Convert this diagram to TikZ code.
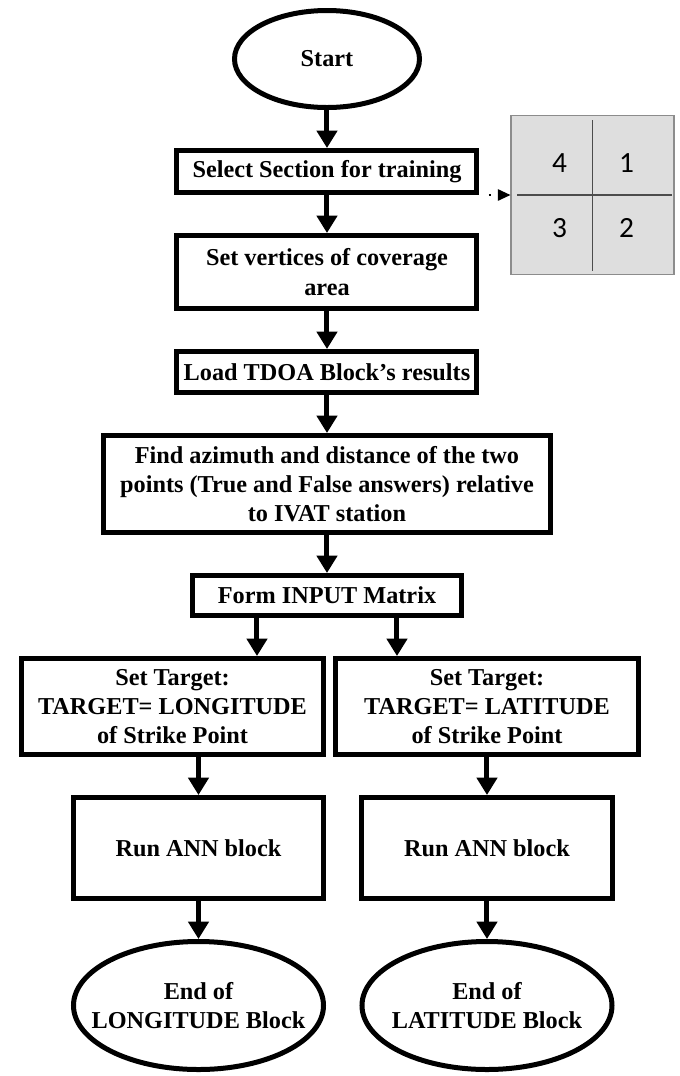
\documentclass[tikz,border=0pt]{standalone}
\usepackage{fontspec}
\setmainfont{Liberation Serif}
\newfontfamily\numfont{Carlito}
\usetikzlibrary{positioning,shapes.geometric,arrows.meta}
\tikzset{txt/.style={font=\fontsize{18.2}{22}\selectfont\bfseries},
main node/.style={rectangle,draw,line width=3.75pt,align=center,inner sep=2pt,txt},
end node/.style={ellipse,draw,line width=3.75pt,inner sep=0pt,txt},
flow/.style={draw,line width=3.75pt,-{Triangle[length=13pt,width=15pt]}},
dot flow/.style={draw,line width=1.3pt,dash pattern=on 0pt off 7pt on 1.5pt off 30pt,-{Triangle[length=9.5pt,width=8.5pt]}},
quarter/.style={font=\numfont\fontsize{22}{22}\selectfont,inner sep=0pt},
}

\begin{document}
\begin{tikzpicture}[node distance = 28.5pt]
	\useasboundingbox (-245.25pt,44.25pt) rectangle (264.75pt,-762.75pt);
	\node[end node,minimum width=138.75pt,minimum height=72.75pt] (1) at (0,0) {Start};
	\node[main node,minimum width=225pt,minimum height=31.5pt] (2)[below = of 1]{Select Section for training};
	\node[main node,minimum width=225pt,minimum height=54.75pt] (3)[below = of 2]{Set vertices of coverage\\area};
	\node[main node,minimum width=225pt,minimum height=30.75pt] (4)[below = of 3]{Load TDOA Block’s results};
	\node[main node,minimum width=335.25pt,minimum height=72.75pt] (5)[below = of 4]{Find azimuth and distance of the two\\points (True and False answers) relative\\to IVAT station};
	\node[main node,minimum width=201.75pt,minimum height=30pt] (6)[below = of 5]{Form INPUT Matrix};
	\node[main node,minimum width=226.5pt,minimum height=72pt] (7)[below = of 6,xshift=-115.875pt]{Set Target:\\TARGET= LONGITUDE\\of Strike Point};
	\node[main node,minimum width=226.5pt,minimum height=72pt] (8)[below = of 6,xshift=120pt]{Set Target:\\TARGET= LATITUDE\\of Strike Point};
	\node[main node,minimum width=187.5pt,minimum height=75.75pt] (9)[below = of 7,xshift=19.5pt]{Run ANN block};
	\node[main node,minimum width=187.5pt,minimum height=75.75pt] (10)[below = of 8]{Run ANN block};
	\node[end node,minimum width=187.5pt,minimum height=96pt,label={[txt,align=center]center:{End of\\LONGITUDE Block}}] (11)[below = of 9]{};
	\node[end node,minimum width=187.5pt,minimum height=96pt,label={[txt,align=center]center:{End of\\LATITUDE Block}}] (12)[below = of 10]{};
	
	\node[draw=black!45,fill=black!13,line width=1pt,minimum width=122pt,minimum height=119pt,anchor=west] (13) at ([xshift=23.25pt]2.south east) {};
	\draw[black!70,line width=0.9pt] ([xshift=5pt]13.west) -- ([xshift=-2pt]13.east);
	\draw[black!70,line width=0.9pt] ([yshift=-4pt]13.north) -- ([yshift=3pt]13.south);
	\node[quarter] (q4) at ([shift={(-24.75pt,24pt)}]13.center) {4};
	\node[quarter] (q1) at ([shift={(25.5pt,24pt)}]13.center) {1};
	\node[quarter] (q3) at ([shift={(-24.75pt,-24.75pt)}]13.center) {3};
	\node[quarter] (q2) at ([shift={(25.5pt,-24.75pt)}]13.center) {2};
	
	\path[every edge/.style={flow}]
	(1) edge (2)
	(2) edge (3)
	(3) edge (4)
	(4) edge (5)
	(5) edge (6)
	([xshift=-52.5pt]6.south) edge ([xshift=-52.5pt]6.south |- 7.north)
	([xshift=52.5pt]6.south) edge ([xshift=52.5pt]6.south |- 8.north)
	(9.north |- 7.south) edge (9.north)
	(10.north |- 8.south) edge (10.north)
	(9) edge (11)
	(10) edge (12);
	\path[dot flow] (2.south east) -- (13.west);
\end{tikzpicture}
\end{document}
